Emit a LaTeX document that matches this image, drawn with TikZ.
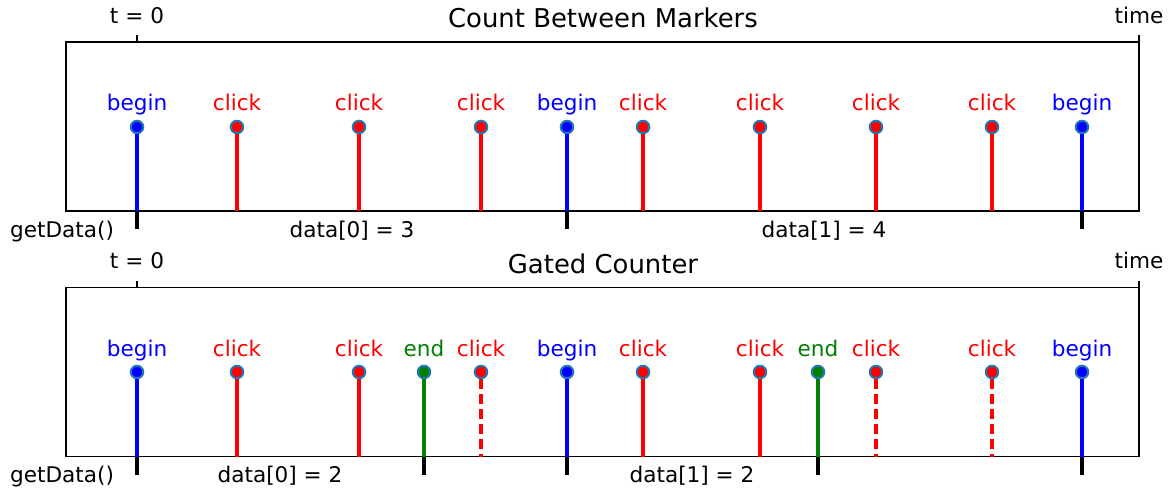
\documentclass[tikz,border=0pt]{standalone}
\usepackage{fontspec}
\setmainfont{DejaVu Sans}
\usetikzlibrary{calc}
\definecolor{mplblue}{RGB}{31,119,180}
\definecolor{mgreen}{RGB}{0,128,0}
\begin{document}
\begin{tikzpicture}[x=1pt,y=-1pt,
  lbl/.style={font=\fontsize{21.6}{26}\selectfont, anchor=base, inner sep=0pt},
  ttl/.style={font=\fontsize{25.9}{31}\selectfont, anchor=base, inner sep=0pt},
  dot/.style={circle, draw=mplblue, line width=2pt, minimum size=12.5pt, inner sep=0pt, fill=#1},
  stem/.style={line width=3.5pt, draw=#1},
  solidstem/.style={},
  dashedstem/.style={dash pattern=on 10pt off 5pt},
  frame/.style={line width=1.8pt, draw=black},
  tick/.style={line width=1.8pt, draw=black},
  gate/.style={line width=4pt, draw=black}]
\useasboundingbox (0,0) rectangle (1169,491);

% ---------- Panel A: Count Between Markers ----------
\node[ttl] (A-title) at (603,27) {Count Between Markers};
\draw[frame] (66,42) rectangle (1139,211);
\node[lbl] (A-t0) at (137,23) {t = 0};
\node[lbl] (A-time) at (1139,23) {time};
\coordinate (A-t0top) at (137,35);
\coordinate (A-t0bot) at (137,42);
\coordinate (A-tmtop) at (1139,35);
\coordinate (A-tmbot) at (1139,42);
\draw[tick] (A-t0top) -- (A-t0bot);
\draw[tick] (A-tmtop) -- (A-tmbot);
\foreach \x/\c/\t/\s/\n in {137/blue/begin/solidstem/1, 237/red/click/solidstem/2,
    359/red/click/solidstem/3, 481/red/click/solidstem/4, 567/blue/begin/solidstem/5,
    643/red/click/solidstem/6, 760/red/click/solidstem/7, 876/red/click/solidstem/8,
    992/red/click/solidstem/9, 1082/blue/begin/solidstem/10} {
  \coordinate (A-b\n) at (\x,211);
  \node[dot=\c] (A-d\n) at (\x,127) {};
  \node[lbl, text=\c] (A-l\n) at (\x,110) {\t};
  \draw[stem=\c, \s] (A-d\n.south) -- (A-b\n);
}
\foreach \n in {1,5,10} {
  \coordinate (A-g\n) at ($(A-b\n)+(0,18)$);
  \draw[gate] (A-b\n) -- (A-g\n);
}
\node[lbl] (A-get) at (62,237) {getData()};
\node[lbl] (A-data0) at (352,237) {data[0] = 3};
\node[lbl] (A-data1) at (824,237) {data[1] = 4};

% ---------- Panel B: Gated Counter ----------
\node[ttl] (B-title) at (603,273) {Gated Counter};
\draw[frame] (66,287.5) rectangle (1139,456.5);
\node[lbl] (B-t0) at (137,268) {t = 0};
\node[lbl] (B-time) at (1139,268) {time};
\coordinate (B-t0top) at (137,280.5);
\coordinate (B-t0bot) at (137,287.5);
\coordinate (B-tmtop) at (1139,280.5);
\coordinate (B-tmbot) at (1139,287.5);
\draw[tick] (B-t0top) -- (B-t0bot);
\draw[tick] (B-tmtop) -- (B-tmbot);
\foreach \x/\c/\t/\s/\n in {137/blue/begin/solidstem/1, 237/red/click/solidstem/2,
    359/red/click/solidstem/3, 424/mgreen/end/solidstem/4, 481/red/click/dashedstem/5,
    567/blue/begin/solidstem/6, 643/red/click/solidstem/7, 760/red/click/solidstem/8,
    818/mgreen/end/solidstem/9, 876/red/click/dashedstem/10, 992/red/click/dashedstem/11,
    1082/blue/begin/solidstem/12} {
  \coordinate (B-b\n) at (\x,456.5);
  \node[dot=\c] (B-d\n) at (\x,372) {};
  \node[lbl, text=\c] (B-l\n) at (\x,356) {\t};
  \draw[stem=\c, \s] (B-d\n.south) -- (B-b\n);
}
\foreach \n in {1,4,6,9,12} {
  \coordinate (B-g\n) at ($(B-b\n)+(0,18)$);
  \draw[gate] (B-b\n) -- (B-g\n);
}
\node[lbl] (B-get) at (62,482) {getData()};
\node[lbl] (B-data0) at (280,482) {data[0] = 2};
\node[lbl] (B-data1) at (692,482) {data[1] = 2};
\end{tikzpicture}
\end{document}
